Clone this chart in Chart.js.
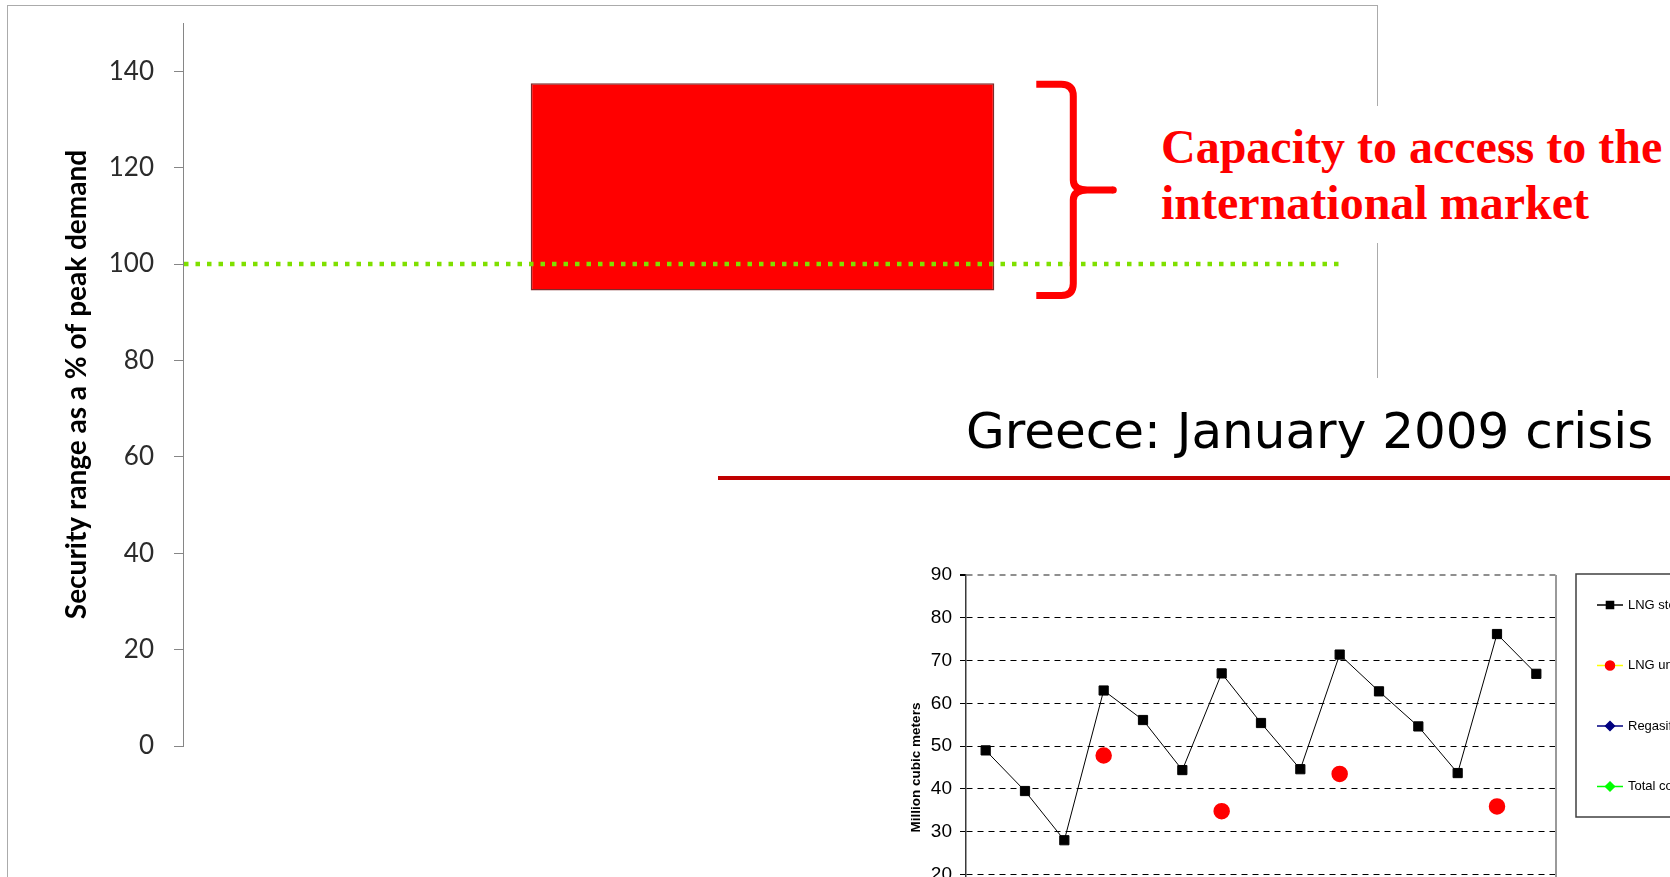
<!DOCTYPE html>
<html>
<head>
<meta charset="utf-8">
<title>Security range and Greece January 2009 crisis</title>
<script src="https://cdn.jsdelivr.net/npm/chart.js@4.4.1/dist/chart.umd.min.js"></script>
<style>
  html, body { margin: 0; padding: 0; background: #fff; }
  body { position: relative; width: 1670px; height: 877px; overflow: hidden; }
  .frame { position: absolute; left: 7px; top: 5px; width: 1369px; height: 960px; border: 1px solid #ababab; }
  #rangeChart { position: absolute; left: 0; top: 0; }
  .callout { position: absolute; left: 1150px; top: 106px; width: 520px; height: 137px; background: #fff; }
  .callout p {
    position: absolute; left: 11px; top: 13px; margin: 0; white-space: nowrap;
    font: bold 48px/56px 'Liberation Serif', 'Times New Roman', serif; color: #ff0000;
  }
  .panel { position: absolute; left: 700px; top: 378px; right: 0; bottom: 0; background: #fff; }
  .panel h2 {
    position: absolute; left: 266px; top: 28px; margin: 0; white-space: nowrap;
    font: normal 50px/50px 'DejaVu Sans', Verdana, sans-serif; color: #000;
  }
  .panel .rule { position: absolute; left: 18px; right: 0; top: 98px; height: 4px; background: #c00000; }
  #lngChart { position: absolute; left: 860px; top: 540px; }
</style>
</head>
<body>
<div class="frame"></div>
<canvas id="rangeChart" width="1400" height="780"></canvas>
<div class="callout"><p>Capacity to access to the<br>international market</p></div>
<div class="panel">
  <h2>Greece: January 2009 crisis</h2>
  <div class="rule"></div>
</div>
<canvas id="lngChart" width="1100" height="460"></canvas>

<script>
// security range vs. peak demand
const rangeCategories = ['Security range'];
const securityRange = [[94.5, 137.5]];
const peakDemandLevel = 100;
const rangeTicks = [0, 20, 40, 60, 80, 100, 120, 140];

// Greece, January 2009 crisis
const crisisDays = ['1', '2', '3', '4', '5', '6', '7', '8', '9', '10', '11', '12', '13', '14', '15'];
const lngStorage = [49, 39.5, 28, 63, 56.1, 44.4, 67, 55.4, 44.6, 71.4, 62.8, 54.6, 43.7, 76.2, 66.9];
const lngUnloading = [null, null, null, 47.8, null, null, 34.8, null, null, 43.5, null, null, null, 35.9, null];
const regasification = [null, null, null, null, null, null, null, null, null, null, null, null, null, null, null];
const totalConsumption = [null, null, null, null, null, null, null, null, null, null, null, null, null, null, null];
const lngTicks = [0, 10, 20, 30, 40, 50, 60, 70, 80, 90];

Chart.defaults.font.family = "'Liberation Sans', Arial, sans-serif";

// dotted 100 % line across the plot
const peakDemandLine = {
  id: 'peakDemandLine',
  afterDatasetsDraw(chart) {
    const { ctx, chartArea: a, scales: { y } } = chart;
    const py = y.getPixelForValue(peakDemandLevel);
    ctx.save();
    ctx.strokeStyle = '#7fe000';
    ctx.lineWidth = 4.5;
    ctx.setLineDash([4.5, 7]);
    ctx.beginPath();
    ctx.moveTo(a.left + 1, py);
    ctx.lineTo(a.right, py);
    ctx.stroke();
    ctx.restore();
  }
};

// red curly brace to the right of the range bar
const braceMarker = {
  id: 'braceMarker',
  afterDatasetsDraw(chart) {
    const bar = chart.getDatasetMeta(0).data[0];
    const right = bar.x + bar.width / 2;
    const t = bar.y + 1, b = bar.base + 5, m = (t + b) / 2;
    const x0 = right + 42, xs = right + 79, xt = right + 119;
    const ctx = chart.ctx;
    ctx.save();
    ctx.strokeStyle = '#ff0000';
    ctx.lineWidth = 7;
    ctx.lineJoin = 'round';
    ctx.beginPath();
    ctx.moveTo(x0, t);
    ctx.lineTo(xs - 12, t);
    ctx.quadraticCurveTo(xs, t, xs, t + 12);
    ctx.lineTo(xs, m - 10);
    ctx.quadraticCurveTo(xs, m, xs + 14, m);
    ctx.lineTo(xt, m);
    ctx.moveTo(xs + 14, m);
    ctx.quadraticCurveTo(xs, m, xs, m + 10);
    ctx.lineTo(xs, b - 12);
    ctx.quadraticCurveTo(xs, b, xs - 12, b);
    ctx.lineTo(x0, b);
    ctx.stroke();
    ctx.beginPath();
    ctx.arc(xt, m, 3.5, 0, Math.PI * 2);
    ctx.fillStyle = '#ff0000';
    ctx.fill();
    ctx.restore();
  }
};

new Chart(document.getElementById('rangeChart'), {
  type: 'bar',
  data: {
    labels: rangeCategories,
    datasets: [{
      data: securityRange,
      backgroundColor: '#ff0000',
      borderColor: '#7f2a2a',
      borderWidth: 1.5,
      borderSkipped: false,
      barPercentage: 0.4,
      categoryPercentage: 1
    }]
  },
  options: {
    responsive: false,
    animation: false,
    events: [],
    layout: { padding: { top: 23, right: 58, bottom: 34, left: 0 } },
    plugins: { legend: { display: false }, tooltip: { enabled: false } },
    scales: {
      x: { display: false },
      y: {
        min: 0,
        max: 150,
        afterBuildTicks: s => { s.ticks = rangeTicks.map(v => ({ value: v })); },
        afterFit: s => { s.width = 183; s.paddingTop = 0; s.paddingBottom = 0; },
        border: { color: '#868686', width: 1 },
        grid: { drawOnChartArea: false, tickLength: 9, color: '#868686' },
        ticks: { padding: 20, color: '#2b2b2b', font: { family: 'Lato', size: 26 } },
        title: {
          display: true,
          text: 'Security range as a % of peak demand',
          color: '#000',
          font: { family: 'Lato', size: 28, weight: 'bold' },
          padding: { top: 60 }
        }
      }
    }
  },
  plugins: [peakDemandLine, braceMarker]
});

// right edge of the plot area
const plotEdge = {
  id: 'plotEdge',
  beforeDatasetsDraw(chart) {
    const { ctx, chartArea: a } = chart;
    ctx.save();
    ctx.strokeStyle = '#9a9a9a';
    ctx.lineWidth = 2;
    ctx.beginPath();
    ctx.moveTo(a.right, a.top);
    ctx.lineTo(a.right, a.bottom);
    ctx.stroke();
    ctx.restore();
  }
};

// boxed legend, one row per series with a line + marker sample
const lngLegend = {
  id: 'lngLegend',
  afterDraw(chart) {
    const { ctx, chartArea } = chart;
    const left = chartArea.right + 20, top = chartArea.top - 1;
    ctx.save();
    ctx.strokeStyle = '#404040';
    ctx.lineWidth = 1.5;
    ctx.strokeRect(left, top, 600, 243);
    chart.data.datasets.forEach((ds, i) => {
      const y = top + 31 + i * 60.5;
      const x = left + 21;
      ctx.strokeStyle = ds.borderColor;
      ctx.lineWidth = 1.5;
      ctx.beginPath();
      ctx.moveTo(x, y);
      ctx.lineTo(x + 26, y);
      ctx.stroke();
      ctx.fillStyle = ds.pointBackgroundColor;
      ctx.strokeStyle = ds.pointBorderColor;
      Chart.helpers.drawPoint(ctx, { pointStyle: ds.pointStyle, radius: ds.legendRadius, borderWidth: 1, rotation: 0 }, x + 13, y);
      ctx.fillStyle = '#000';
      ctx.font = "13px 'Liberation Sans', Arial, sans-serif";
      ctx.textBaseline = 'middle';
      ctx.fillText(ds.label, x + 31, y);
    });
    ctx.restore();
  }
};

new Chart(document.getElementById('lngChart'), {
  type: 'line',
  data: {
    labels: crisisDays,
    datasets: [{
      label: 'LNG storage',
      data: lngStorage,
      borderColor: '#000',
      borderWidth: 1,
      pointStyle: 'rect',
      pointRadius: 6.5,
      pointBackgroundColor: '#000',
      pointBorderColor: '#000',
      legendRadius: 5,
      order: 0
    }, {
      label: 'LNG unloading',
      data: lngUnloading,
      borderColor: '#ffff00',
      borderWidth: 1.5,
      pointStyle: 'circle',
      pointRadius: 7.5,
      pointBackgroundColor: '#ff0000',
      pointBorderColor: '#ff0000',
      legendRadius: 4.5,
      order: 1
    }, {
      label: 'Regasification',
      data: regasification,
      borderColor: '#000080',
      borderWidth: 1.5,
      pointStyle: 'rectRot',
      pointRadius: 5,
      pointBackgroundColor: '#000080',
      pointBorderColor: '#000080',
      legendRadius: 4.5,
      order: 2
    }, {
      label: 'Total consumption',
      data: totalConsumption,
      borderColor: '#00ff00',
      borderWidth: 1.5,
      pointStyle: 'rectRot',
      pointRadius: 5,
      pointBackgroundColor: '#00ff00',
      pointBorderColor: '#00ff00',
      legendRadius: 4.5,
      order: 3
    }]
  },
  options: {
    responsive: false,
    animation: false,
    events: [],
    layout: { padding: { top: 35, right: 404, bottom: 40, left: 0 } },
    plugins: { legend: { display: false }, tooltip: { enabled: false } },
    scales: {
      x: { display: false, offset: true },
      y: {
        min: 0,
        max: 90,
        afterBuildTicks: s => { s.ticks = lngTicks.map(v => ({ value: v })); },
        afterFit: s => { s.width = 106; s.paddingTop = 0; s.paddingBottom = 0; },
        border: { color: '#3a3a3a', width: 1.5, dash: [6, 5] },
        grid: {
          color: c => (c.tick && c.tick.value === 90 ? '#8f8f8f' : '#000'),
          lineWidth: c => (c.tick && c.tick.value === 90 ? 2 : 1),
          tickLength: 6,
          tickColor: '#000'
        },
        ticks: { padding: 8, color: '#000', font: { size: 19 } },
        title: {
          display: true,
          text: 'Million cubic meters',
          color: '#000',
          font: { size: 13.5, weight: 'bold' },
          padding: { top: 48 }
        }
      }
    }
  },
  plugins: [plotEdge, lngLegend]
});
</script>
</body>
</html>
